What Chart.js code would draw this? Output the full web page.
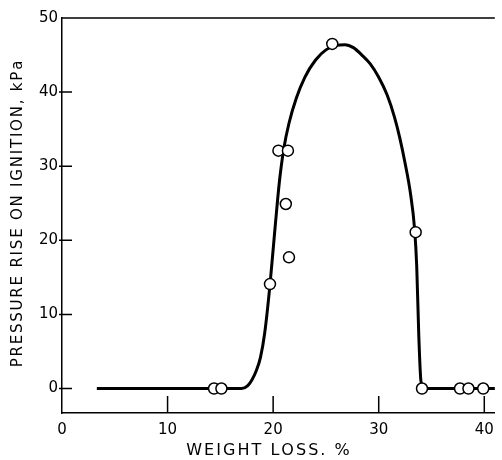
<!DOCTYPE html>
<html><head><meta charset="utf-8">
<script src="https://cdn.jsdelivr.net/npm/chart.js@4/dist/chart.umd.min.js"></script>
<style>html,body{margin:0;padding:0;background:#fff}#wrap{width:502px;height:460px}</style>
</head><body><div id="wrap"><canvas id="c" width="502" height="460"></canvas></div>
<script>
// Tick labels
const xTicks = [0, 10, 20, 30, 40];
const yTicks = [0, 10, 20, 30, 40, 50];
// Observed points (weight loss %, pressure rise kPa)
const obsX = [14.4, 15.1, 19.7, 20.5, 21.4, 21.2, 21.5, 25.6, 33.5, 34.1, 37.7, 38.5, 39.9];
const obsY = [0, 0, 14.1, 32.1, 32.1, 24.9, 17.7, 46.5, 21.1, 0, 0, 0, 0];
// Fitted curve
const curveX = [3.3, 17.0, 17.6, 18.0, 18.4, 18.8, 19.2, 19.7, 20.2, 20.6, 21.0, 21.5, 22.2, 23.0, 24.0, 25.0, 26.0, 26.8, 27.6, 28.4, 29.2, 30.0, 30.8, 31.5, 32.0, 32.5, 33.0, 33.4, 33.6, 33.8, 34.0, 34.3, 41.5];
const curveY = [0, 0, 0.4, 1.2, 2.4, 4.2, 7.5, 14, 22, 28, 32.3, 35.8, 39.2, 42, 44.3, 45.7, 46.3, 46.4, 46, 45, 43.8, 42.0, 39.6, 36.6, 33.8, 30.4, 26.4, 21.5, 16.5, 7, 1, 0, 0];
const xTitle = 'WEIGHT LOSS. %';
const yTitle = 'PRESSURE RISE ON IGNITION, kPa';

const FONT = '"DejaVu Sans", "Liberation Sans", sans-serif';

function fitText(ctx, text, size, target) {
  ctx.font = size + 'px ' + FONT;
  const w = ctx.measureText(text).width;
  const n = text.length - 1;
  return Math.max(0, (target - w) / n);
}
function drawSpaced(ctx, text, cx, cy, spacing) {
  let total = 0;
  const widths = [...text].map(ch => { const w = ctx.measureText(ch).width; total += w; return w; });
  total += spacing * (text.length - 1);
  let x = cx - total / 2;
  ctx.textAlign = 'left'; ctx.textBaseline = 'middle';
  [...text].forEach((ch, i) => { ctx.fillText(ch, x, cy); x += widths[i] + spacing; });
}

const extras = {
  id: 'extras',
  afterDraw(chart) {
    const { ctx, chartArea: a, scales: { x, y } } = chart;
    ctx.save();
    ctx.strokeStyle = '#000'; ctx.lineWidth = 1.5;
    ctx.beginPath();
    ctx.moveTo(a.left, a.top); ctx.lineTo(a.right, a.top);
    xTicks.forEach(v => { if (v === 0) return; const px = x.getPixelForValue(v); ctx.moveTo(px, a.bottom); ctx.lineTo(px, a.bottom - 17); });
    yTicks.forEach(v => { if (v === 50) return; const py = y.getPixelForValue(v); ctx.moveTo(a.left - 3, py); ctx.lineTo(a.left + 10, py); });
    ctx.stroke();
    ctx.fillStyle = '#000';
    // x title
    let sp = fitText(ctx, xTitle, 16, 163);
    drawSpaced(ctx, xTitle, 268, 451, sp);
    // y title
    ctx.save();
    ctx.translate(18, 214);
    ctx.rotate(-Math.PI / 2);
    sp = fitText(ctx, yTitle, 15, 306);
    drawSpaced(ctx, yTitle, 0, 0, sp);
    ctx.restore();
    ctx.restore();
  }
};

new Chart(document.getElementById('c'), {
  type: 'scatter',
  data: {
    datasets: [
      {
        data: obsX.map((v, i) => ({ x: v, y: obsY[i] })),
        pointRadius: 5.5, pointBorderWidth: 1.5,
        pointBackgroundColor: '#fff', pointBorderColor: '#000',
        order: 0
      },
      {
        data: curveX.map((v, i) => ({ x: v, y: curveY[i] })),
        showLine: true, pointRadius: 0, borderColor: '#000', borderWidth: 3,
        cubicInterpolationMode: 'monotone', order: 1
      }
    ]
  },
  options: {
    responsive: false, animation: false, devicePixelRatio: 1,
    layout: { padding: { top: 18, left: 0, right: 0, bottom: 0 } },
    plugins: { legend: { display: false }, tooltip: { enabled: false } },
    scales: {
      x: {
        type: 'linear', min: 0, max: 41,
        afterBuildTicks: s => { s.ticks = xTicks.map(v => ({ value: v })); },
        afterFit: s => { s.height = 47; },
        grid: { display: false, drawTicks: false },
        border: { display: true, color: '#000', width: 1.5 },
        ticks: { color: '#000', padding: 8, font: { family: FONT, size: 15 }, maxRotation: 0 }
      },
      y: {
        type: 'linear', min: -3.3, max: 50,
        afterBuildTicks: s => { s.ticks = yTicks.map(v => ({ value: v })); },
        afterFit: s => { s.width = 62; },
        grid: { display: false, drawTicks: false },
        border: { display: true, color: '#000', width: 1.5 },
        ticks: { color: '#000', padding: 4, font: { family: FONT, size: 15 } }
      }
    }
  },
  plugins: [extras]
});
</script>
</body></html>
